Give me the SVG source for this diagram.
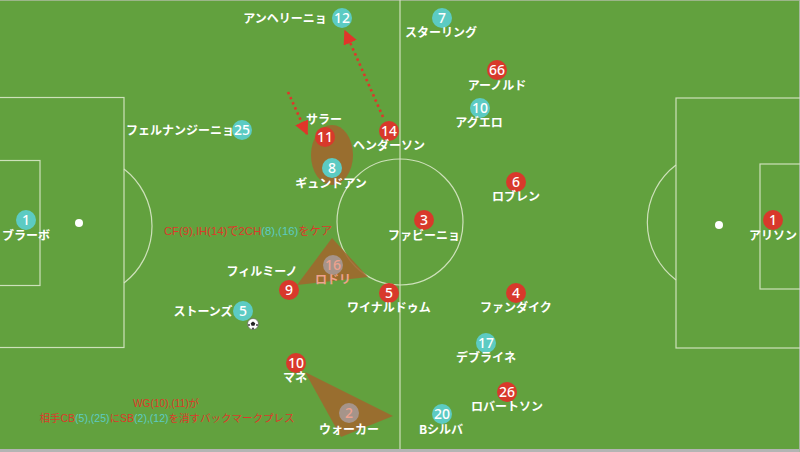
<svg xmlns="http://www.w3.org/2000/svg" width="800" height="452" viewBox="0 0 800 452">
<defs>
<style>
.pitch{fill:none;stroke:#d9e8c8;stroke-width:1.2;opacity:0.9}
.lbl{font-family:"Noto Sans CJK JP","Noto Sans",sans-serif;font-size:12px;font-weight:bold;fill:#ffffff;text-anchor:middle}
.num{font-family:"Noto Sans","Noto Sans CJK JP",sans-serif;font-size:14px;font-weight:500;fill:#ffffff;text-anchor:middle}
.red{fill:#d8392b}
.cyan{fill:#5ccbc3}
.ghost{fill:#a6948a}
.area{fill:#a0662d;opacity:0.88}
.note{font-family:"Liberation Sans","Noto Sans CJK JP",sans-serif;font-size:10.5px;text-anchor:middle}
.tr{fill:#dc3a2a}
.tc{fill:#5ccbc3}
.arrow{fill:none;stroke:#e0352a;stroke-width:2.6;stroke-dasharray:2.4 3.2}
</style>
<marker id="ah" viewBox="0 0 10 10" refX="9" refY="5" markerWidth="5.5" markerHeight="5.5" orient="auto" markerUnits="strokeWidth">
<path d="M0,0 L10,5 L0,10 Z" fill="#e0352a"/>
</marker>
</defs>
<rect x="0" y="0" width="800" height="452" fill="#62a13e"/>
<rect x="0" y="449" width="800" height="3" fill="#b4b4b4"/>
<rect x="0" y="0" width="800" height="1" fill="#9cb58a"/>
<rect x="799" y="0" width="1" height="452" fill="#a8b8a0"/>
<g id="pitch">
<line class="pitch" x1="400" y1="0" x2="400" y2="449"/>
<circle class="pitch" cx="400" cy="222" r="63"/>
<rect class="pitch" x="-2" y="97.5" width="126" height="250"/>
<rect class="pitch" x="-2" y="160.5" width="42" height="125"/>
<path class="pitch" d="M124,169 A72,72 0 0 1 124,283"/>
<circle cx="79" cy="223" r="4" fill="#ffffff"/>
<rect class="pitch" x="676" y="98" width="126" height="250"/>
<rect class="pitch" x="760" y="164" width="42" height="125"/>
<path class="pitch" d="M676,165 A72,72 0 0 0 676,280"/>
<circle cx="719" cy="225" r="4" fill="#ffffff"/>
</g>
<g id="zones">
<ellipse class="area" cx="332" cy="155" rx="21" ry="30"/>
<polygon class="area" points="332,238 368,277 297,285"/>
<polygon class="area" points="305,372 393,416 341,437"/>
</g>
<g id="connectors">
<line class="arrow" x1="288" y1="92" x2="307" y2="134" marker-end="url(#ah)"/>
<line class="arrow" x1="383" y1="117" x2="345" y2="31" marker-end="url(#ah)"/>
</g>
<g id="p-c12"><circle class="cyan" cx="342" cy="18" r="10"/><text class="num" x="342" y="23">12</text><text class="lbl" x="285" y="23">アンヘリーニョ</text></g>
<g id="p-c7"><circle class="cyan" cx="442" cy="18" r="10"/><text class="num" x="442" y="23">7</text><text class="lbl" x="441" y="37">スターリング</text></g>
<g id="p-c10"><circle class="cyan" cx="480" cy="108" r="10"/><text class="num" x="480" y="113">10</text><text class="lbl" x="479" y="127">アグエロ</text></g>
<g id="p-c25"><circle class="cyan" cx="242" cy="130" r="10"/><text class="num" x="242" y="135">25</text><text class="lbl" x="180" y="135">フェルナンジーニョ</text></g>
<g id="p-c8"><circle class="cyan" cx="332" cy="168" r="10"/><text class="num" x="332" y="173">8</text><text class="lbl" x="331" y="188">ギュンドアン</text></g>
<g id="p-c1"><circle class="cyan" cx="26" cy="220" r="10"/><text class="num" x="26" y="225">1</text><text class="lbl" x="26" y="240">ブラーボ</text></g>
<g id="p-c16"><circle class="ghost" cx="333" cy="265" r="10"/><text class="num" x="333" y="270" style="fill:#eea28e">16</text><text class="lbl" x="333" y="284" style="fill:#eea28e">ロドリ</text></g>
<g id="p-c5"><circle class="cyan" cx="243" cy="311" r="10"/><text class="num" x="243" y="316">5</text><text class="lbl" x="203" y="316">ストーンズ</text></g>
<g id="p-c17"><circle class="cyan" cx="486" cy="343" r="10"/><text class="num" x="486" y="348">17</text><text class="lbl" x="486" y="362">デブライネ</text></g>
<g id="p-c20"><circle class="cyan" cx="442" cy="414" r="10"/><text class="num" x="442" y="419">20</text><text class="lbl" x="441" y="434">Bシルバ</text></g>
<g id="p-c2"><circle class="ghost" cx="349" cy="413" r="10"/><text class="num" x="349" y="418" style="fill:#eea28e">2</text><text class="lbl" x="349" y="434">ウォーカー</text></g>
<g id="p-r66"><circle class="red" cx="497" cy="70" r="10"/><text class="num" x="497" y="75">66</text><text class="lbl" x="497" y="90">アーノルド</text></g>
<g id="p-r11"><circle class="red" cx="325" cy="137" r="10"/><text class="num" x="325" y="142">11</text><text class="lbl" x="324" y="124">サラー</text></g>
<g id="p-r14"><circle class="red" cx="389" cy="131" r="10"/><text class="num" x="389" y="136">14</text><text class="lbl" x="389" y="150">ヘンダーソン</text></g>
<g id="p-r6"><circle class="red" cx="516" cy="182" r="10"/><text class="num" x="516" y="187">6</text><text class="lbl" x="516" y="201">ロブレン</text></g>
<g id="p-r3"><circle class="red" cx="424" cy="220" r="10"/><text class="num" x="424" y="225">3</text><text class="lbl" x="424" y="240">ファビーニョ</text></g>
<g id="p-r1"><circle class="red" cx="773" cy="220" r="10"/><text class="num" x="773" y="225">1</text><text class="lbl" x="773" y="240">アリソン</text></g>
<g id="p-r9"><circle class="red" cx="289" cy="290" r="10"/><text class="num" x="289" y="295">9</text><text class="lbl" x="262" y="276">フィルミーノ</text></g>
<g id="p-r5"><circle class="red" cx="389" cy="293" r="10"/><text class="num" x="389" y="298">5</text><text class="lbl" x="389" y="312">ワイナルドゥム</text></g>
<g id="p-r4"><circle class="red" cx="516" cy="293" r="10"/><text class="num" x="516" y="298">4</text><text class="lbl" x="516" y="312">ファンダイク</text></g>
<g id="p-r10"><circle class="red" cx="296" cy="363" r="10"/><text class="num" x="296" y="368">10</text><text class="lbl" x="295" y="382">マネ</text></g>
<g id="p-r26"><circle class="red" cx="507" cy="392" r="10"/><text class="num" x="507" y="397">26</text><text class="lbl" x="507" y="411">ロバートソン</text></g>
<g id="ball">
<circle cx="253" cy="324" r="5.5" fill="#ffffff" stroke="#555" stroke-width="0.6"/>
<polygon points="253,321.5 255.3,323.2 254.4,325.8 251.6,325.8 250.7,323.2" fill="#222"/>
<circle cx="249" cy="325" r="0.9" fill="#333"/>
<circle cx="257" cy="325" r="0.9" fill="#333"/>
<circle cx="253" cy="328.5" r="0.9" fill="#333"/>
</g>
<g id="notes">
<text class="note" x="248" y="235" style="font-size:11.3px"><tspan class="tr">CF(9),IH(14)で2CH</tspan><tspan class="tc">(8),(16)</tspan><tspan class="tr">をケア</tspan></text>
<text class="note" x="166" y="407" style="font-size:10.2px"><tspan class="tr">WG(10),(11)が</tspan></text>
<text class="note" x="167" y="422"><tspan class="tr">相手CB</tspan><tspan class="tc">(5),(25)</tspan><tspan class="tr">にSB</tspan><tspan class="tc">(2),(12)</tspan><tspan class="tr">を消すバックマークプレス</tspan></text>
</g>
</svg>
